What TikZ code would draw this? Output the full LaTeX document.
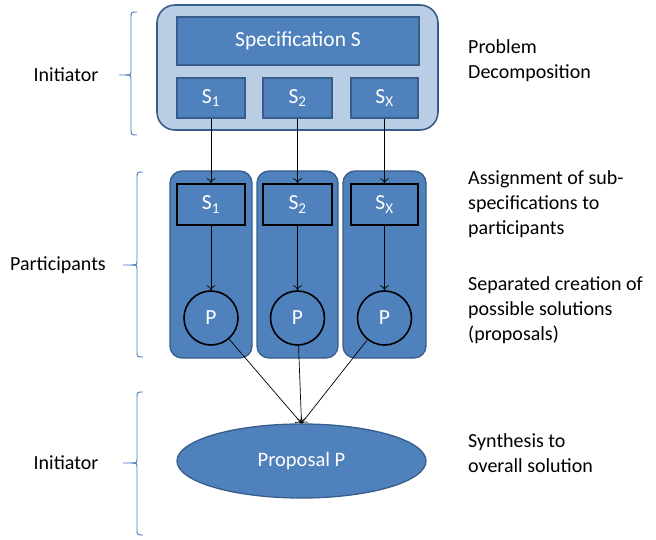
\documentclass[tikz,border=0pt]{standalone}
\usepackage{fontspec}
\setmainfont{Carlito}
\usetikzlibrary{arrows.meta,shapes.geometric}
\definecolor{mid}{HTML}{4F81BD}
\definecolor{bdr}{HTML}{385D8A}
\definecolor{light}{HTML}{B9CDE5}
\definecolor{brc}{HTML}{4A7EBB}
\tikzset{
  outerbox/.style={draw=bdr, fill=light, line width=1.6pt, rounded corners=18pt},
  blk/.style={draw=bdr, fill=mid, line width=1.3pt, text=white, font=\fontsize{21.5}{24}\selectfont, inner sep=0pt},
  colbox/.style={draw=bdr, fill=mid, line width=1.3pt, rounded corners=12pt},
  innerbox/.style={draw=black, fill=mid, line width=1.6pt, text=white, font=\fontsize{21.5}{24}\selectfont, inner sep=0pt},
  pcirc/.style={circle, draw=black, fill=mid, line width=1.6pt, text=white, font=\fontsize{21.5}{24}\selectfont, minimum size=54pt, inner sep=0pt},
  arr/.style={-{To[length=5pt,width=9pt]}, black, line width=0.7pt},
  lbl/.style={font=\fontsize{20}{25}\selectfont, text=black},
  rlbl/.style={font=\fontsize{20}{25}\selectfont, align=left, anchor=north west, inner sep=0pt},
  bracestyle/.style={draw=brc, line width=0.9pt},
}
\begin{document}
\begin{tikzpicture}[x=1pt,y=-1pt]
\useasboundingbox (0,0) rectangle (656,540);
% top initiator box
\node[outerbox, minimum width=281pt, minimum height=125pt] (outer) at (297.5,67.5) {};
\node[blk, minimum width=242pt, minimum height=48pt] (spec) at (298,41) {Specification S};
\node[blk, minimum width=68pt, minimum height=40pt] (t1) at (211,98) {S\textsubscript{1}};
\node[blk, minimum width=69pt, minimum height=40pt] (t2) at (297.5,98) {S\textsubscript{2}};
\node[blk, minimum width=67pt, minimum height=40pt] (t3) at (384.5,98) {S\textsubscript{X}};
% participant columns
\node[colbox, minimum width=82pt, minimum height=187pt] (col1) at (211,264.5) {};
\node[colbox, minimum width=81pt, minimum height=187pt] (col2) at (297.5,264.5) {};
\node[colbox, minimum width=83pt, minimum height=187pt] (col3) at (384.5,264.5) {};
\node[innerbox, minimum width=68pt, minimum height=41pt] (b1) at (211,204.5) {S\textsubscript{1}};
\node[innerbox, minimum width=69pt, minimum height=41pt] (b2) at (297.5,204.5) {S\textsubscript{2}};
\node[innerbox, minimum width=67pt, minimum height=41pt] (b3) at (384.5,204.5) {S\textsubscript{X}};
\node[pcirc] (c1) at (211,318) {P};
\node[pcirc] (c2) at (297.5,318) {P};
\node[pcirc] (c3) at (384.5,318) {P};
% proposal
\node[ellipse, draw=bdr, fill=mid, line width=1.3pt, text=white, font=\fontsize{20.5}{24}\selectfont, minimum width=249pt, minimum height=74pt, inner sep=0pt] (prop) at (301.5,461) {Proposal P};
% arrows
\draw[arr] (t1.south) -- (b1.north);
\draw[arr] (t2.south) -- (b2.north);
\draw[arr] (t3.south) -- (b3.north);
\draw[arr] (b1.south) -- (c1.north);
\draw[arr] (b2.south) -- (c2.north);
\draw[arr] (b3.south) -- (c3.north);
\draw[arr] (c1) -- (prop.north);
\draw[arr] (c2) -- (prop.north);
\draw[arr] (c3) -- (prop.north);
% braces
\draw[bracestyle] (137,12) .. controls (131,12) .. (131,18) -- (131,70) .. controls (131,75) .. (125,75) -- (119,75);
\draw[bracestyle] (125,75) .. controls (131,75) .. (131,80) -- (131,129) .. controls (131,135) .. (137,135);
\draw[bracestyle] (143,172) .. controls (137,172) .. (137,178) -- (137,260) .. controls (137,265) .. (131,265) -- (123,265);
\draw[bracestyle] (131,265) .. controls (137,265) .. (137,270) -- (137,351) .. controls (137,357) .. (143,357);
\draw[bracestyle] (143,392) .. controls (137,392) .. (137,398) -- (137,458) .. controls (137,463) .. (131,463) -- (123,463);
\draw[bracestyle] (131,463) .. controls (137,463) .. (137,468) -- (137,529) .. controls (137,535) .. (143,535);
% left labels
\node[lbl] (l1) at (66,75) {Initiator};
\node[lbl] (l2) at (58,265) {Participants};
\node[lbl] (l3) at (66,463) {Initiator};
% right labels
\node[rlbl] (r1) at (468,39) {Problem\\Decomposition};
\node[rlbl] (r2) at (468,170) {Assignment of sub-\\specifications to\\participants};
\node[rlbl] (r3) at (468,276) {Separated creation of\\possible solutions\\(proposals)};
\node[rlbl] (r4) at (468,433) {Synthesis to\\overall solution};
\end{tikzpicture}
\end{document}
